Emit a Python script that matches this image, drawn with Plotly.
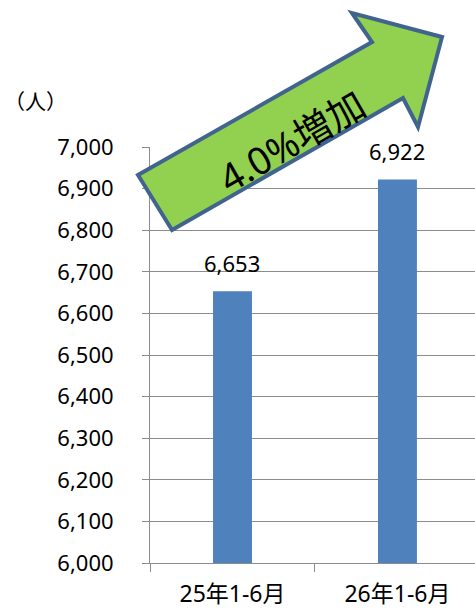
import plotly.graph_objects as go

categories = ["25年1-6月", "26年1-6月"]
values = [6653, 6922]
y_ticks = list(range(6000, 7001, 100))
y_unit = "（人）"
arrow_text = "4.0%増加"

W, H = 475, 609
L, R, T, B = 150, 0, 147, 46
FONT = "Noto Sans, Noto Sans CJK JP, sans-serif"
GRID = "#8c8c8c"

def px(x, y):
    return ((x - L) / (W - L - R), 1 - (y - T) / (H - T - B))

arrow_pts = [(172, 230), (138, 175), (372, 42), (352, 13), (442, 37), (418, 127), (403, 98)]
path = "M " + " L ".join("%.4f,%.4f" % px(x, y) for x, y in arrow_pts) + " Z"

fig = go.Figure()
fig.add_trace(go.Bar(
    x=categories, y=values, marker_color="#4F81BD", marker_line_width=0,
    width=0.236, hoverinfo="skip",
))

annotations = []
for c, v in zip(categories, values):
    annotations.append(dict(
        x=c, y=v, xref="x", yref="y", text=f"{v:,}", showarrow=False,
        yanchor="bottom", yshift=11, font=dict(size=22, color="black", family=FONT),
    ))
ux, uy = px(35, 100)
annotations.append(dict(x=ux, y=uy, xref="paper", yref="paper", text=y_unit,
                        showarrow=False, xanchor="center", yanchor="middle",
                        font=dict(size=21, color="black", family="Noto Sans CJK JP")))
tx, ty = px(291, 141)
annotations.append(dict(x=tx, y=ty, xref="paper", yref="paper", text=arrow_text,
                        showarrow=False, textangle=-30, xanchor="center", yanchor="middle",
                        font=dict(size=38, color="black", family=FONT)))

fig.update_layout(
    width=W, height=H,
    margin=dict(l=L, r=R, t=T, b=B, pad=0),
    paper_bgcolor="white", plot_bgcolor="white",
    showlegend=False,
    font=dict(family=FONT, size=22, color="black"),
    shapes=[dict(type="path", path=path, xref="paper", yref="paper",
                 fillcolor="#92D050", line=dict(color="#41648F", width=4), layer="above")],
    annotations=annotations,
    yaxis=dict(range=[6000, 7000], tickvals=y_ticks, tickformat=",",
               showgrid=True, gridcolor=GRID, gridwidth=1,
               showline=True, linecolor=GRID, linewidth=1,
               ticks="outside", ticklen=7, tickcolor=GRID,
               ticklabelstandoff=24, zeroline=False, automargin=False,
               tickfont=dict(size=22, family=FONT)),
    xaxis=dict(range=[-0.5, 1.47], showline=True, linecolor=GRID, linewidth=1,
               ticks="outside", ticklen=8, tickcolor=GRID, tickson="boundaries",
               showgrid=False, ticklabelstandoff=10, automargin=False,
               tickfont=dict(size=23, family=FONT)),
)

fig.write_html("out.html", config={"displayModeBar": False},
               post_script="document.body.style.margin='0';document.body.style.overflow='hidden';")
